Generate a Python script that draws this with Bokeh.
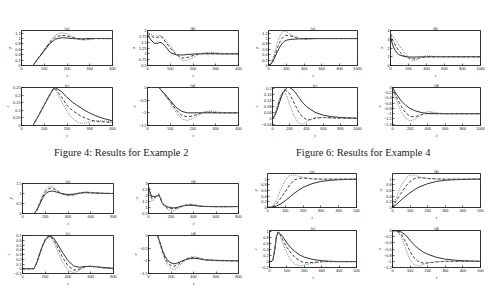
from bokeh.plotting import figure
from bokeh.layouts import row, column
from bokeh.models import Range1d, FixedTicker
from bokeh.core.properties import value
from bokeh.embed import file_html
from bokeh.resources import INLINE

# ---------------- data: top-left group ----------------
tl_a_t = [0, 50, 75, 100, 125, 150, 175, 200, 225, 250, 275, 300, 325, 350, 375, 400]
tl_a_solid = [0, 0, 0.28, 0.55, 0.82, 0.98, 1.03, 1.02, 1.0, 0.99, 0.99, 1.0, 1.0, 1.0, 1.0, 1.0]
tl_a_dashed = [0, 0, 0.29, 0.57, 0.86, 1.06, 1.12, 1.1, 1.04, 0.99, 0.97, 0.99, 1.0, 1.0, 1.0, 1.0]
tl_a_dotted = [0, 0, 0.3, 0.6, 0.9, 1.14, 1.22, 1.18, 1.07, 0.97, 0.94, 0.96, 1.0, 1.01, 1.0, 1.0]

tl_b_t = [0, 15, 30, 45, 55, 65, 80, 100, 125, 150, 175, 200, 225, 250, 275, 300, 325, 350, 400]
tl_b_solid = [1.82, 1.6, 1.45, 1.45, 1.5, 1.45, 1.3, 1.05, 0.96, 0.95, 0.97, 0.99, 1.0, 1.0, 1.0, 1.0, 1.0, 1.0, 1.0]
tl_b_dashed = [1.88, 1.78, 1.68, 1.7, 1.75, 1.7, 1.5, 1.25, 0.98, 0.82, 0.84, 0.93, 1.0, 1.02, 1.02, 1.01, 1.0, 1.0, 1.0]
tl_b_dotted = [1.93, 1.85, 1.77, 1.77, 1.8, 1.75, 1.6, 1.35, 1.0, 0.72, 0.72, 0.85, 0.98, 1.05, 1.06, 1.05, 1.02, 1.0, 1.0]

tl_c_t = [0, 50, 75, 100, 125, 140, 150, 175, 200, 225, 250, 275, 300, 325, 350, 375, 400]
tl_c_solid = [0, 0, 0.065, 0.135, 0.205, 0.243, 0.248, 0.225, 0.185, 0.152, 0.127, 0.102, 0.082, 0.065, 0.051, 0.04, 0.031]
tl_c_dashed = [0, 0, 0.065, 0.135, 0.205, 0.242, 0.24, 0.19, 0.133, 0.098, 0.072, 0.052, 0.037, 0.029, 0.025, 0.022, 0.02]
tl_c_dotted = [0, 0, 0.066, 0.136, 0.205, 0.24, 0.233, 0.16, 0.092, 0.045, 0.018, 0.015, 0.024, 0.03, 0.031, 0.028, 0.025]

tl_d_t = [0, 50, 75, 100, 125, 150, 175, 200, 225, 250, 275, 300, 325, 350, 400]
tl_d_solid = [0, 0, -0.25, -0.51, -0.78, -0.94, -1.0, -1.0, -1.0, -1.0, -1.0, -1.0, -1.0, -1.0, -1.0]
tl_d_dashed = [0, 0, -0.27, -0.55, -0.88, -1.1, -1.16, -1.12, -1.04, -0.98, -0.97, -0.99, -1.0, -1.0, -1.0]
tl_d_dotted = [0, 0, -0.29, -0.6, -0.97, -1.24, -1.3, -1.22, -1.08, -0.96, -0.93, -0.95, -0.99, -1.0, -1.0]

# ---------------- data: top-right group ----------------
tr_a_t = [0, 25, 50, 75, 100, 125, 150, 175, 200, 250, 300, 350, 400, 450, 500, 600, 700, 800, 900, 1000]
tr_a_solid = [0, 0.04, 0.15, 0.33, 0.52, 0.68, 0.8, 0.89, 0.94, 0.97, 0.98, 0.99, 1.0, 1.0, 1.0, 1.0, 1.0, 1.0, 1.0, 1.0]
tr_a_dashed = [0, 0.05, 0.2, 0.42, 0.66, 0.86, 1.0, 1.09, 1.12, 1.1, 1.04, 1.0, 0.98, 0.99, 1.0, 1.0, 1.0, 1.0, 1.0, 1.0]
tr_a_dotted = [0, 0.07, 0.27, 0.55, 0.85, 1.08, 1.22, 1.28, 1.26, 1.15, 1.08, 1.01, 0.97, 0.97, 0.99, 1.0, 1.0, 1.0, 1.0, 1.0]

tr_b_t = [0, 25, 50, 75, 100, 150, 200, 250, 300, 350, 400, 450, 500, 600, 700, 800, 900, 1000]
tr_b_solid = [3.3, 2.3, 1.75, 1.4, 1.2, 1.05, 0.98, 0.96, 0.98, 0.99, 1.0, 1.0, 1.0, 1.0, 1.0, 1.0, 1.0, 1.0]
tr_b_dashed = [3.6, 2.9, 2.4, 1.95, 1.6, 1.1, 0.84, 0.75, 0.8, 0.92, 1.0, 1.0, 1.0, 1.0, 1.0, 1.0, 1.0, 1.0]
tr_b_dotted = [3.8, 3.3, 3.0, 2.6, 2.25, 1.55, 0.95, 0.5, 0.72, 1.02, 1.1, 1.08, 1.04, 1.0, 1.0, 1.0, 1.0, 1.0]

tr_c_t = [0, 25, 50, 75, 100, 125, 150, 175, 200, 250, 300, 350, 400, 450, 500, 600, 700, 800, 900, 1000]
tr_c_solid = [0, 0.015, 0.05, 0.095, 0.14, 0.175, 0.198, 0.21, 0.21, 0.19, 0.15, 0.11, 0.08, 0.06, 0.04, 0.02, 0.01, 0.005, 0.002, 0.0]
tr_c_dashed = [0, 0.018, 0.06, 0.11, 0.15, 0.178, 0.19, 0.185, 0.168, 0.11, 0.05, 0.01, -0.01, -0.01, 0.0, 0.005, 0.002, 0.0, 0.0, 0.0]
tr_c_dotted = [0, 0.022, 0.07, 0.125, 0.163, 0.178, 0.172, 0.14, 0.095, 0.02, -0.03, -0.042, -0.025, -0.008, 0.004, 0.005, 0.0, 0.0, 0.0, 0.0]

tr_d_t = [0, 25, 50, 75, 100, 150, 200, 250, 300, 350, 400, 450, 500, 600, 700, 800, 900, 1000]
tr_d_solid = [0, -0.15, -0.28, -0.4, -0.51, -0.68, -0.8, -0.88, -0.93, -0.97, -0.99, -1.0, -1.0, -1.0, -1.0, -1.0, -1.0, -1.0]
tr_d_dashed = [0, -0.22, -0.4, -0.56, -0.72, -0.97, -1.1, -1.12, -1.07, -1.02, -0.99, -0.98, -0.99, -1.0, -1.0, -1.0, -1.0, -1.0]
tr_d_dotted = [0, -0.28, -0.52, -0.74, -0.93, -1.18, -1.27, -1.22, -1.1, -0.98, -0.92, -0.93, -0.97, -1.0, -1.0, -1.0, -1.0, -1.0]

# ---------------- data: bottom-left group (Figure 4) ----------------
bl_a_t = [0, 100, 125, 150, 175, 200, 225, 250, 275, 300, 350, 400, 450, 500, 550, 600, 650, 700, 800]
bl_a_solid = [0, 0, 0.15, 0.45, 0.75, 0.97, 1.08, 1.12, 1.11, 1.07, 0.99, 0.95, 0.97, 1.02, 1.04, 1.03, 1.02, 1.01, 1.0]
bl_a_dashed = [0, 0, 0.17, 0.5, 0.82, 1.07, 1.22, 1.27, 1.23, 1.14, 0.98, 0.92, 0.94, 1.02, 1.06, 1.05, 1.03, 1.01, 1.0]
bl_a_dotted = [0, 0, 0.19, 0.55, 0.9, 1.17, 1.32, 1.36, 1.3, 1.18, 0.96, 0.88, 0.91, 1.02, 1.08, 1.06, 1.03, 1.01, 1.0]

bl_b_t = [0, 15, 30, 50, 70, 90, 105, 120, 140, 170, 200, 230, 260, 300, 340, 380, 420, 460, 500, 600, 700, 800]
bl_b_solid = [2.6, 2.2, 1.95, 1.9, 1.95, 2.0, 1.8, 1.4, 1.2, 1.05, 0.98, 0.97, 1.02, 1.12, 1.18, 1.19, 1.15, 1.1, 1.08, 1.07, 1.07, 1.08]
bl_b_dashed = [2.75, 2.2, 1.75, 1.8, 1.95, 2.1, 1.85, 1.4, 1.15, 0.95, 0.9, 0.88, 0.98, 1.12, 1.21, 1.23, 1.18, 1.12, 1.09, 1.07, 1.07, 1.08]
bl_b_dotted = [2.9, 2.1, 1.55, 1.65, 1.9, 2.2, 1.9, 1.4, 1.1, 0.85, 0.72, 0.7, 0.88, 1.1, 1.25, 1.29, 1.22, 1.14, 1.1, 1.07, 1.07, 1.08]

bl_c_t = [0, 100, 125, 150, 175, 200, 225, 250, 275, 300, 350, 400, 450, 500, 550, 600, 650, 700, 800]
bl_c_solid = [0, 0, 0.12, 0.3, 0.47, 0.6, 0.67, 0.68, 0.64, 0.55, 0.35, 0.17, 0.06, 0.03, 0.05, 0.05, 0.04, 0.03, 0.01]
bl_c_dashed = [0, 0, 0.13, 0.31, 0.48, 0.61, 0.68, 0.67, 0.6, 0.49, 0.25, 0.06, -0.03, -0.01, 0.04, 0.05, 0.04, 0.02, 0.0]
bl_c_dotted = [0, 0, 0.14, 0.33, 0.5, 0.63, 0.69, 0.66, 0.56, 0.42, 0.15, -0.04, -0.08, -0.04, 0.04, 0.06, 0.04, 0.02, 0.0]

bl_d_t = [0, 80, 100, 125, 150, 175, 200, 225, 250, 300, 350, 400, 450, 500, 600, 700, 800]
bl_d_solid = [0, 0, -0.25, -0.6, -0.85, -1.0, -1.08, -1.12, -1.1, -1.0, -0.93, -0.9, -0.92, -0.96, -0.98, -0.99, -1.0]
bl_d_dashed = [0, 0, -0.28, -0.65, -0.93, -1.1, -1.18, -1.22, -1.18, -1.03, -0.9, -0.87, -0.9, -0.96, -0.99, -1.0, -1.0]
bl_d_dotted = [0, 0, -0.3, -0.7, -1.0, -1.2, -1.3, -1.35, -1.3, -1.08, -0.88, -0.82, -0.87, -0.95, -1.0, -1.0, -1.0]

# ---------------- data: bottom-right group (Figure 6) ----------------
br_a_t = [0, 25, 50, 75, 100, 125, 150, 175, 200, 250, 300, 350, 400, 450, 500]
br_a_solid = [0, 0.01, 0.05, 0.13, 0.24, 0.37, 0.5, 0.61, 0.71, 0.84, 0.92, 0.96, 0.98, 0.99, 1.0]
br_a_dashed = [0, 0.02, 0.12, 0.33, 0.56, 0.8, 0.97, 1.03, 1.04, 1.01, 1.0, 1.0, 1.0, 1.0, 1.0]
br_a_dotted = [0, 0.03, 0.25, 0.65, 0.97, 1.14, 1.15, 1.1, 1.06, 1.02, 1.0, 1.0, 1.0, 1.0, 1.0]

br_b_t = [0, 25, 50, 75, 100, 125, 150, 200, 250, 300, 350, 400, 450, 500]
br_b_solid = [0, 0.12, 0.27, 0.4, 0.52, 0.63, 0.72, 0.84, 0.92, 0.96, 0.98, 0.99, 1.0, 1.0]
br_b_dashed = [0, 0.28, 0.52, 0.75, 0.92, 1.02, 1.05, 1.03, 1.01, 1.0, 1.0, 1.0, 1.0, 1.0]
br_b_dotted = [0, 0.42, 0.78, 1.02, 1.15, 1.14, 1.08, 1.02, 1.0, 1.0, 1.0, 1.0, 1.0, 1.0]

br_c_t = [0, 10, 20, 30, 40, 50, 60, 75, 100, 125, 150, 175, 200, 250, 300, 350, 400, 500]
br_c_solid = [0, 0, 0.05, 0.4, 0.85, 1.0, 0.95, 0.85, 0.63, 0.45, 0.32, 0.22, 0.15, 0.07, 0.03, 0.01, 0.0, 0.0]
br_c_dashed = [0, 0, 0.05, 0.4, 0.85, 1.0, 0.93, 0.75, 0.48, 0.28, 0.12, 0.02, -0.04, -0.03, 0.0, 0.0, 0.0, 0.0]
br_c_dotted = [0, 0, 0.05, 0.4, 0.85, 0.98, 0.88, 0.65, 0.28, 0.02, -0.1, -0.14, -0.12, -0.05, -0.01, 0.0, 0.0, 0.0]

br_d_t = [0, 25, 50, 75, 100, 125, 150, 175, 200, 250, 300, 350, 400, 450, 500]
br_d_solid = [0, -0.01, -0.05, -0.15, -0.32, -0.48, -0.6, -0.7, -0.77, -0.87, -0.93, -0.96, -0.98, -0.99, -1.0]
br_d_dashed = [0, -0.02, -0.12, -0.38, -0.68, -0.9, -1.02, -1.06, -1.05, -1.02, -1.0, -1.0, -1.0, -1.0, -1.0]
br_d_dotted = [0, -0.03, -0.2, -0.6, -0.95, -1.12, -1.15, -1.1, -1.05, -1.01, -1.0, -1.0, -1.0, -1.0, -1.0]

# ---------------- axes / ticks ----------------
tl_xticks = [0, 100, 200, 300, 400]
tr_xticks = [0, 200, 400, 600, 800, 1000]
bl_xticks = [0, 200, 400, 600, 800]
br_xticks = [0, 100, 200, 300, 400, 500]

tl_a_yticks = [0, 0.2, 0.4, 0.6, 0.8, 1, 1.2]
tl_b_yticks = [0.5, 0.75, 1, 1.25, 1.5, 1.75, 2]
tl_c_yticks = [0, 0.05, 0.1, 0.15, 0.2, 0.25]
tl_d_yticks = [-1.5, -1, -0.5, 0]
tr_a_yticks = [0, 0.2, 0.4, 0.6, 0.8, 1, 1.2]
tr_b_yticks = [0, 1, 2, 3, 4]
tr_c_yticks = [-0.04, 0, 0.04, 0.08, 0.12, 0.16, 0.2]
tr_d_yticks = [-1.4, -1.2, -1, -0.8, -0.6, -0.4, -0.2, 0]
bl_a_yticks = [0, 0.5, 1, 1.5]
bl_b_yticks = [0.5, 1, 1.5, 2, 2.5, 3]
bl_c_yticks = [-0.1, 0, 0.1, 0.2, 0.3, 0.4, 0.5, 0.6, 0.7]
bl_d_yticks = [-1.5, -1, -0.5, 0]
br_a_yticks = [0, 0.2, 0.4, 0.6, 0.8, 1]
br_b_yticks = [0, 0.2, 0.4, 0.6, 0.8, 1]
br_c_yticks = [-0.2, 0, 0.2, 0.4, 0.6, 0.8, 1]
br_d_yticks = [-1.2, -1, -0.8, -0.6, -0.4, -0.2, 0]

captions = ["Figure 4:  Results for Example 2", "Figure 6:  Results for Example 4"]

SANS = "Liberation Sans"


def panel(t, s1, s2, s3, xr, yr, xticks, yticks, title, ylab, w, h, bl, br, bt, bb):
    p = figure(width=w, height=h, x_range=Range1d(*xr), y_range=Range1d(*yr),
               output_backend="svg", toolbar_location=None,
               min_border_left=bl, min_border_right=br,
               min_border_top=bt, min_border_bottom=bb,
               background_fill_color="white", border_fill_color="white",
               outline_line_color="black", outline_line_width=0.8)
    p.title.text = title
    p.title.text_font_size = "4px"
    p.title.text_font = SANS
    p.title.text_font_style = "normal"
    p.title.text_color = "#222222"
    p.title.align = "center"
    p.title.standoff = 0
    p.title.offset = 0
    p.grid.visible = False
    p.xaxis.ticker = FixedTicker(ticks=xticks)
    p.yaxis.ticker = FixedTicker(ticks=yticks)
    p.xaxis.axis_label = "t"
    p.yaxis.axis_label = ylab
    for ax in p.axis:
        ax.major_label_text_font_size = "3.8px"
        ax.major_label_text_font = SANS
        ax.major_label_text_color = "#111111"
        ax.axis_label_text_font_size = "4px"
        ax.axis_label_text_font = SANS
        ax.axis_label_text_color = "#111111"
        ax.axis_label_standoff = 0
        ax.major_label_standoff = 1
        ax.major_tick_in = 2
        ax.major_tick_out = 0
        ax.minor_tick_line_color = None
        ax.axis_line_color = None
        ax.major_tick_line_width = 0.6
        ax.major_tick_line_color = "black"
    p.line(t, s1, line_color="#1a1a1a", line_width=0.9)
    p.line(t, s2, line_color="#2a2a2a", line_width=0.9, line_dash="3 2")
    p.line(t, s3, line_color="#777777", line_width=0.9, line_dash="1 1")
    return p


def caption(txt, w, h, cx, cy):
    p = figure(width=w, height=h, x_range=Range1d(0, w), y_range=Range1d(0, h),
               output_backend="svg", toolbar_location=None, min_border=0,
               x_axis_type=None, y_axis_type=None, outline_line_color=None,
               background_fill_color="white", border_fill_color="white")
    p.grid.visible = False
    p.text(x=[cx], y=[cy], text=[txt], text_align="center", text_baseline="middle",
           text_font=value("Liberation Serif"), text_font_size="10.5px", text_color="#222222")
    return p


# top row 1 (height 80)
tla = panel(tl_a_t, tl_a_solid, tl_a_dashed, tl_a_dotted, (0, 400), (0, 1.3), tl_xticks, tl_a_yticks, "(a)", "y", 128, 80, 21, 16, 30, 9)
tlb = panel(tl_b_t, tl_b_solid, tl_b_dashed, tl_b_dotted, (0, 400), (0.5, 2), tl_xticks, tl_b_yticks, "(b)", "u", 122, 80, 19, 12, 30, 9)
tra = panel(tr_a_t, tr_a_solid, tr_a_dashed, tr_a_dotted, (0, 1000), (0, 1.3), tr_xticks, tr_a_yticks, "(a)", "y", 125, 80, 18, 18, 29, 9)
trb = panel(tr_b_t, tr_b_solid, tr_b_dashed, tr_b_dotted, (0, 1000), (0, 4), tr_xticks, tr_b_yticks, "(b)", "u", 126, 80, 15, 21, 29, 9)
# top row 2 (height 60)
tlc = panel(tl_c_t, tl_c_solid, tl_c_dashed, tl_c_dotted, (0, 400), (0, 0.25), tl_xticks, tl_c_yticks, "(c)", "r", 128, 60, 21, 16, 7, 13)
tld = panel(tl_d_t, tl_d_solid, tl_d_dashed, tl_d_dotted, (0, 400), (-1.5, 0), tl_xticks, tl_d_yticks, "(d)", "e", 122, 60, 19, 12, 7, 13)
trc = panel(tr_c_t, tr_c_solid, tr_c_dashed, tr_c_dotted, (0, 1000), (-0.05, 0.21), tr_xticks, tr_c_yticks, "(c)", "r", 125, 60, 18, 18, 6, 13)
trd = panel(tr_d_t, tr_d_solid, tr_d_dashed, tr_d_dotted, (0, 1000), (-1.45, 0), tr_xticks, tr_d_yticks, "(d)", "e", 126, 60, 15, 21, 6, 13)
# captions (height 20)
capl = caption(captions[0], 250, 20, 122, 8)
capr = caption(captions[1], 251, 20, 114, 8)
# bottom-left
bla = panel(bl_a_t, bl_a_solid, bl_a_dashed, bl_a_dotted, (0, 800), (0, 1.5), bl_xticks, bl_a_yticks, "(a)", "y", 128, 68, 22, 15, 23, 6)
blb = panel(bl_b_t, bl_b_solid, bl_b_dashed, bl_b_dotted, (0, 800), (0.5, 3), bl_xticks, bl_b_yticks, "(b)", "u", 122, 68, 20, 12, 23, 6)
blc = panel(bl_c_t, bl_c_solid, bl_c_dashed, bl_c_dotted, (0, 800), (-0.1, 0.7), bl_xticks, bl_c_yticks, "(c)", "r", 128, 60, 22, 15, 6, 13)
bld = panel(bl_d_t, bl_d_solid, bl_d_dashed, bl_d_dotted, (0, 800), (-1.5, 0), bl_xticks, bl_d_yticks, "(d)", "e", 122, 60, 20, 12, 6, 13)
# bottom-right
bra = panel(br_a_t, br_a_solid, br_a_dashed, br_a_dotted, (0, 500), (0, 1.2), br_xticks, br_a_yticks, "(a)", "y", 125, 62, 16, 19, 13, 7)
brb = panel(br_b_t, br_b_solid, br_b_dashed, br_b_dotted, (0, 500), (0, 1.2), br_xticks, br_b_yticks, "(b)", "u", 126, 62, 15, 21, 13, 7)
brc = panel(br_c_t, br_c_solid, br_c_dashed, br_c_dotted, (0, 500), (-0.2, 1.05), br_xticks, br_c_yticks, "(c)", "r", 125, 66, 16, 19, 8, 21)
brd = panel(br_d_t, br_d_solid, br_d_dashed, br_d_dotted, (0, 500), (-1.2, 0), br_xticks, br_d_yticks, "(d)", "e", 126, 66, 15, 21, 8, 21)

layout = column(
    row(tla, tlb, tra, trb, spacing=0),
    row(tlc, tld, trc, trd, spacing=0),
    row(capl, capr, spacing=0),
    row(column(row(bla, blb, spacing=0), row(blc, bld, spacing=0), spacing=0),
        column(row(bra, brb, spacing=0), row(brc, brd, spacing=0), spacing=0), spacing=0),
    spacing=0,
)

open("out.html", "w").write(file_html(layout, INLINE))
